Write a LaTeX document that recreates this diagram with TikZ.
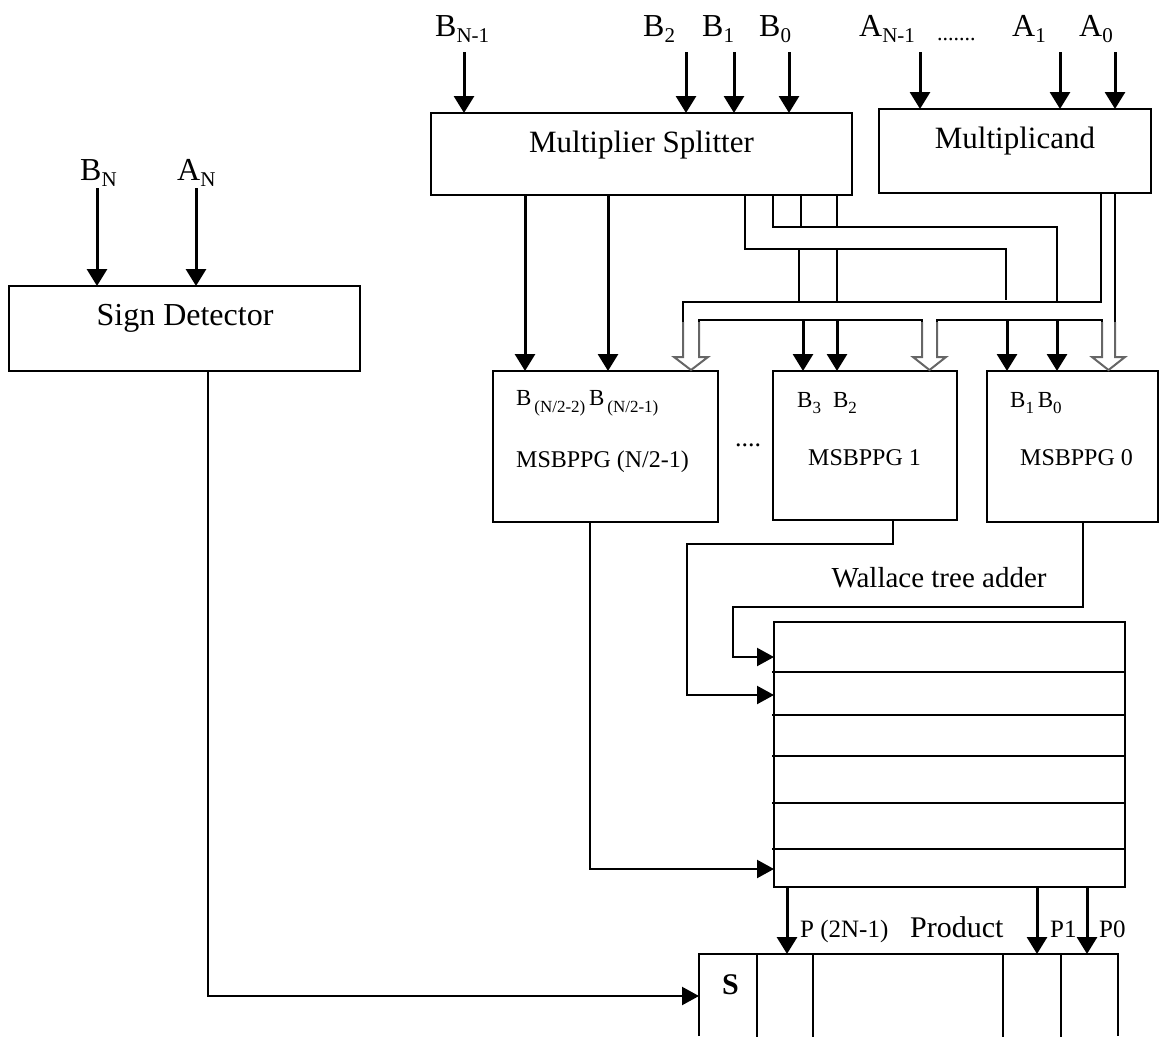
\documentclass[tikz,border=0pt]{standalone}
\usepackage{fontspec}
\setmainfont{Liberation Serif}
\usetikzlibrary{arrows.meta}
\newcommand\fsz[1]{\fontsize{#1}{#1}\selectfont}
\newcommand\lsub[3]{\raisebox{-#2pt}{\fsz{#1}#3}}
\begin{document}
\begin{tikzpicture}[x=1pt,y=-1pt, line join=miter,
  box/.style={draw, line width=2pt, inner sep=0pt, outer sep=0pt, anchor=north west},
  txt/.style={inner sep=0pt, anchor=base west},
  ctxt/.style={inner sep=0pt, anchor=base},
  wire/.style={line width=2pt},
  arr/.style={line width=3pt, -{Triangle[width=20pt,length=17pt]}},
  warr/.style={line width=2.2pt, -{Triangle[width=18pt,length=17pt]}},
  hollow/.style={line width=2pt, draw=black!60}]
\useasboundingbox (0,0) rectangle (1159,1036);

% ---------- boxes ----------
\node[box, minimum width=421pt, minimum height=82pt] (split) at (431,113) {};
\node[box, minimum width=272pt, minimum height=84pt] (mcand) at (879,109) {};
\node[box, minimum width=351pt, minimum height=85pt] (sign) at (9,286) {};
\node[box, minimum width=225pt, minimum height=151pt] (m2) at (493,371) {};
\node[box, minimum width=184pt, minimum height=149pt] (m1) at (773,371) {};
\node[box, minimum width=171pt, minimum height=151pt] (m0) at (987,371) {};
\node[box, minimum width=351pt, minimum height=265pt] (wal) at (774,622) {};
\node[inner sep=0pt, outer sep=0pt, anchor=north west, minimum width=419pt, minimum height=82pt] (prod) at (699,954) {};
\draw[line width=2pt] (prod.south west) -- (prod.north west) -- (prod.north east) -- (prod.south east);
\foreach \x in {757,813,1003,1061} \draw[line width=2pt] (\x,954) -- (\x,1037);
\foreach \y in {672,715,756,803,849} \draw[line width=2pt] (772,\y) -- (1125,\y);

% ---------- texts ----------
\node[ctxt, font=\fsz{31}] (tsplit) at (641.5,152) {Multiplier Splitter};
\node[ctxt, font=\fsz{31}] (tmcand) at (1015,148) {Multiplicand};
\node[ctxt, font=\fsz{32}] (tsign) at (185,325) {Sign Detector};

\node[txt, font=\fsz{32}] (lbn1) at (435,36) {B\lsub{21}{6}{N-1}};
\node[txt, font=\fsz{32}] (lb2) at (643,36) {B\lsub{21}{6}{2}};
\node[txt, font=\fsz{32}] (lb1) at (702,36) {B\lsub{21}{6}{1}};
\node[txt, font=\fsz{32}] (lb0) at (759,36) {B\lsub{21}{6}{0}};
\node[txt, font=\fsz{32}] (lan1) at (859,36) {A\lsub{21}{6}{N-1}};
\node[txt, font=\fsz{22}] (ldots) at (937,40) {.......};
\node[txt, font=\fsz{32}] (la1) at (1012,36) {A\lsub{21}{6}{1}};
\node[txt, font=\fsz{32}] (la0) at (1079,36) {A\lsub{21}{6}{0}};
\node[txt, font=\fsz{32}] (lbn) at (80,180) {B\lsub{21}{6}{N}};
\node[txt, font=\fsz{32}] (lan) at (177,180) {A\lsub{21}{6}{N}};

\node[txt, font=\fsz{23}] (tm2b) at (516,405) {B\lsub{17}{7}{\,(N/2-2)}\,B\lsub{17}{7}{\,(N/2-1)}};
\node[txt, font=\fsz{24}] (tm2) at (516,467) {MSBPPG (N/2-1)};
\node[txt, font=\fsz{26}] (tdots) at (735,446) {....};
\node[txt, font=\fsz{23}] (tm1b) at (797,407) {B\lsub{17}{6}{3}\hspace{12pt}B\lsub{17}{6}{2}};
\node[txt, font=\fsz{24}] (tm1) at (808,465) {MSBPPG 1};
\node[txt, font=\fsz{23}] (tm0b) at (1010,407) {B\lsub{17}{6}{1}\,B\lsub{17}{6}{0}};
\node[txt, font=\fsz{24}] (tm0) at (1020,465) {MSBPPG 0};

\node[ctxt, font=\fsz{29}] (twal) at (939,587) {Wallace tree adder};
\node[txt, font=\fsz{25}] (tp2n) at (800,937) {P (2N-1)};
\node[txt, font=\fsz{30}] (tprod) at (910,937) {Product};
\node[txt, font=\fsz{25}] (tp1) at (1050,937) {P1};
\node[txt, font=\fsz{25}] (tp0) at (1099,937) {P0};
\node[txt, font=\fsz{30}\bfseries] (ts) at (722,994) {S};

% ---------- input arrows ----------
\coordinate (cbn1) at (464,52);
\coordinate (cb2) at (686,52);
\coordinate (cb1) at (734,52);
\coordinate (cb0) at (789,52);
\coordinate (can1) at (920,52);
\coordinate (ca1) at (1060,52);
\coordinate (ca0) at (1115,52);
\coordinate (cbn) at (97,188);
\coordinate (can) at (196,188);
\foreach \c in {cbn1,cb2,cb1,cb0} \draw[arr] (\c) -- (split.north -| \c);
\foreach \c in {can1,ca1,ca0} \draw[arr] (\c) -- (mcand.north -| \c);
\foreach \c in {cbn,can} \draw[arr] (\c) -- (sign.north -| \c);

% ---------- splitter outputs ----------
\coordinate (s1) at (525,195);
\coordinate (s2) at (608,195);
\draw[arr] (s1) -- (m2.north -| s1);
\draw[arr] (s2) -- (m2.north -| s2);
\draw[wire] (745,195) -- (745,249) -- (1006,249) -- (1006,300);
\draw[wire] (773,195) -- (773,227) -- (1057,227) -- (1057,302);
\draw[wire] (801,195) -- (801,227);
\draw[wire] (837,195) -- (837,227);
\draw[wire] (799,249) -- (799,302);
\draw[wire] (837,249) -- (837,302);

% ---------- multiplicand outputs / buses ----------
\draw[wire] (1101,193) -- (1101,302) -- (683,302) -- (683,322);
\draw[wire] (699,322) -- (699,320) -- (922,320) -- (922,322);
\draw[wire] (937,322) -- (937,320) -- (1102,320) -- (1102,322);
\draw[wire] (1115,193) -- (1115,322);
% hollow arrows
\draw[hollow] (683,322) -- (683,357) -- (674,357) -- (691,370) -- (708,357) -- (699,357) -- (699,322);
\draw[hollow] (922,322) -- (922,357) -- (913,357) -- (929.5,370) -- (946,357) -- (937,357) -- (937,322);
\draw[hollow] (1102,322) -- (1102,357) -- (1092,357) -- (1108.5,370) -- (1125,357) -- (1115,357) -- (1115,322);
% black arrows into MSBPPG blocks
\coordinate (k1) at (803,320);
\coordinate (k2) at (837,320);
\coordinate (k3) at (1007,320);
\coordinate (k4) at (1057,320);
\draw[arr] (k1) -- (m1.north -| k1);
\draw[arr] (k2) -- (m1.north -| k2);
\draw[arr] (k3) -- (m0.north -| k3);
\draw[arr] (k4) -- (m0.north -| k4);

% ---------- MSBPPG -> Wallace ----------
\draw[warr] (m2.south -| 590,0) -- (590,869) -- (wal.west |- 0,869);
\draw[warr] (m1.south -| 893,0) -- (893,544) -- (687,544) -- (687,695) -- (wal.west |- 0,695);
\draw[warr] (m0.south -| 1083,0) -- (1083,607) -- (733,607) -- (733,657) -- (wal.west |- 0,657);

% ---------- Wallace -> product ----------
\foreach \x in {787,1037,1087} \draw[arr] (wal.south -| \x,0) -- (prod.north -| \x,0);

% ---------- sign -> product ----------
\draw[warr] (sign.south -| 208,0) -- (208,996) -- (prod.west |- 0,996);
\end{tikzpicture}
\end{document}
